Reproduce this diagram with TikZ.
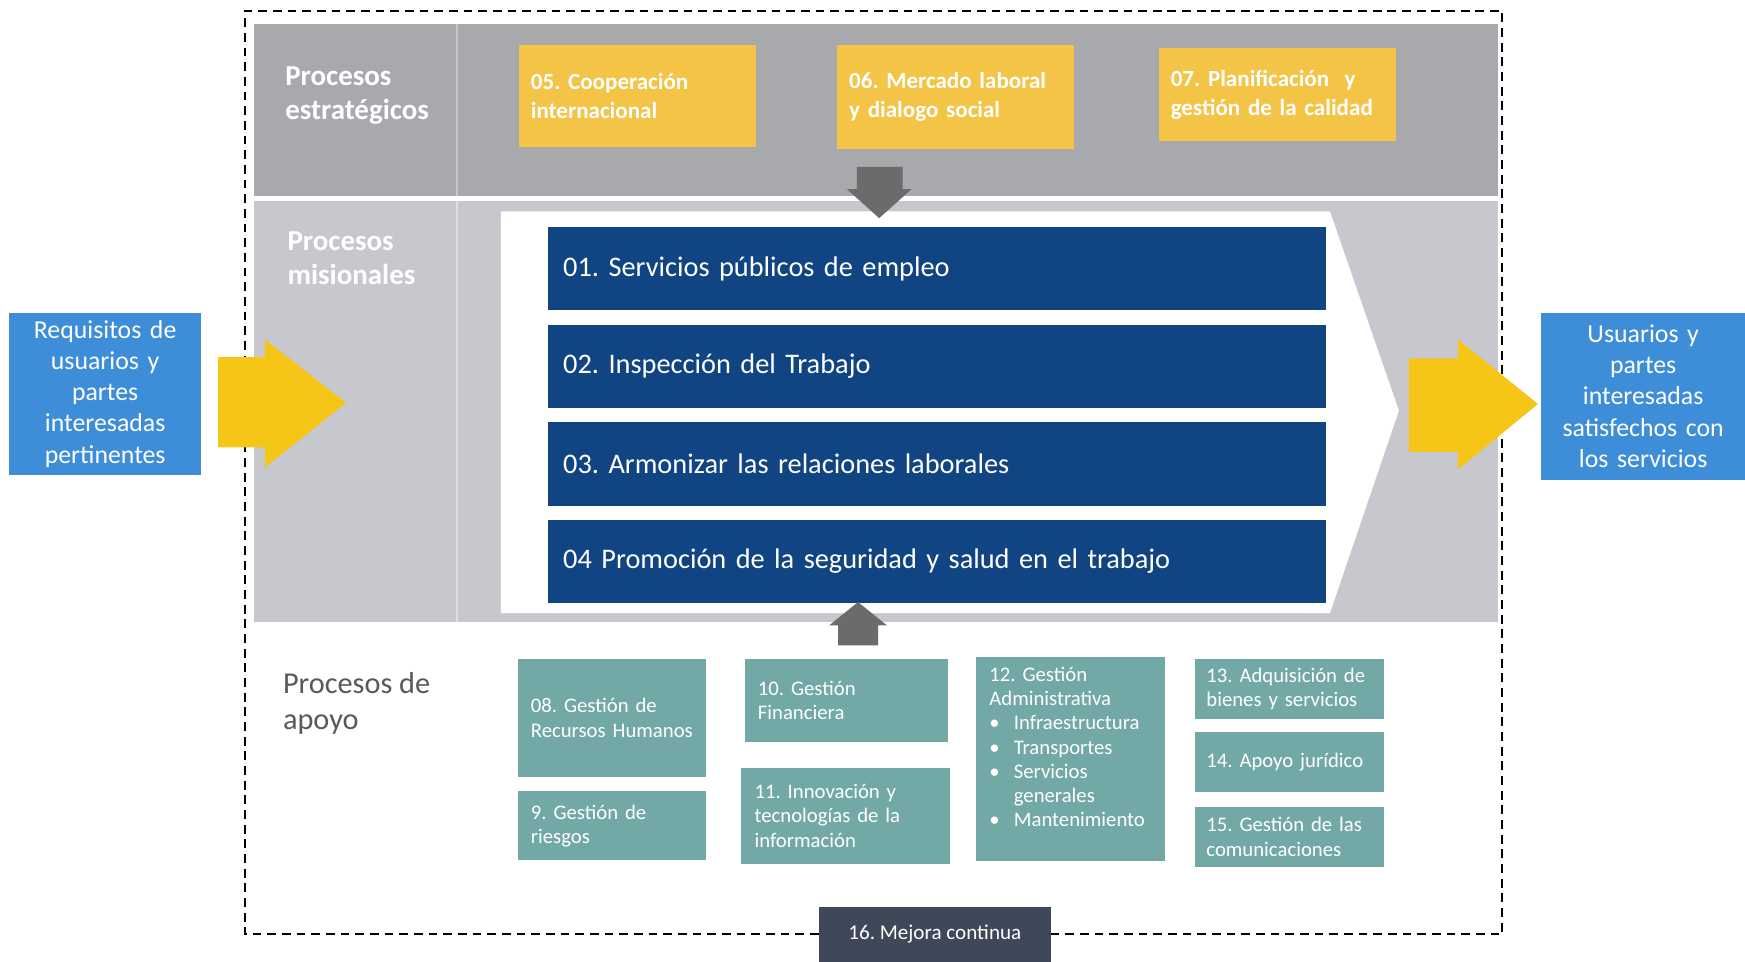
\documentclass[tikz,border=0pt]{standalone}
\usepackage{fontspec}
\setmainfont{Carlito}
\usetikzlibrary{positioning}

\definecolor{grisEst}{HTML}{A7A9AD}
\definecolor{grisMis}{HTML}{C7C8CE}
\definecolor{lineaEst}{HTML}{C4C5C9}
\definecolor{lineaMis}{HTML}{DDDEE2}
\definecolor{amarilloCaja}{HTML}{F4C447}
\definecolor{amarilloFlecha}{HTML}{F5C518}
\definecolor{azulOscuro}{HTML}{114482}
\definecolor{azulClaro}{HTML}{3D8DD9}
\definecolor{verdeApoyo}{HTML}{72A9A6}
\definecolor{grisFlecha}{HTML}{6B6B6B}
\definecolor{grisMejora}{HTML}{3F4858}
\definecolor{grisTexto}{HTML}{595959}

\newcommand{\vineta}{\makebox[0.44cm][l]{\textbullet}}

\begin{document}
\frenchspacing
\hyphenpenalty=10000
\begin{tikzpicture}[x=0.02cm, y=-0.02cm, node distance=0.24cm,
  estrategico/.style={rectangle, fill=amarilloCaja, text=white, align=left,
    font=\bfseries\fontsize{11.8}{14.7}\selectfont, inner xsep=0.22cm, text width=3.82cm},
  misional/.style={rectangle, fill=azulOscuro, text=white, align=left,
    font=\fontsize{14.5}{16}\selectfont, inner xsep=0.28cm, text width=13.44cm, minimum height=1.5cm},
  apoyo/.style={rectangle, fill=verdeApoyo, text=white, align=left,
    font=\fontsize{10.6}{12.4}\selectfont, inner xsep=0.24cm},
  externo/.style={rectangle, fill=azulClaro, text=white, align=center,
    font=\fontsize{13.2}{15.9}\selectfont, inner sep=0pt},
  titulo/.style={anchor=west, inner sep=0pt, align=left, text=white,
    font=\bfseries\fontsize{14.8}{17.6}\selectfont},
  borde/.style={dash pattern=on 4.5pt off 3pt, line width=1.1pt},
  flechaAm/.style={fill=amarilloFlecha},
  flechaGr/.style={fill=grisFlecha}]

  \useasboundingbox (0,0) rectangle (1568,864);

  % Franjas de fondo
  \fill[grisEst] (228,22) rectangle (1346,176);
  \fill[grisMis] (228,181) rectangle (1346,559);
  \fill[white] (450,190) -- (1195,190) -- (1257,369) -- (1195,551) -- (450,551) -- cycle;
  \draw[lineaEst, line width=1pt] (411,22) -- (411,176);
  \draw[lineaMis, line width=1pt] (411,181) -- (411,559);

  % Titulos de las franjas
  \node[titulo] (tEst) at (256,86) {Procesos\\estratégicos};
  \node[titulo] (tMis) at (258,232) {Procesos\\misionales};
  \node[titulo, text=grisTexto, font=\fontsize{15.5}{18.7}\selectfont] (tApo) at (254,632) {Procesos de\\apoyo};

  % Procesos estrategicos
  \node[estrategico, minimum height=1.84cm] (p05) at (572.5,86) {05. Cooperación\\internacional};
  \node[estrategico, minimum height=1.88cm] (p06) at (858.5,87) {06. Mercado~laboral\\y dialogo social};
  \node[estrategico, minimum height=1.68cm] (p07) at (1147.5,85) {07. Planificación\ \ y\\gestión~de~la~calidad};

  % Procesos misionales
  \node[misional] (m01) at (842,241.5) {01. Servicios públicos de empleo};
  \node[misional, below=of m01] (m02) {02. Inspección del Trabajo};
  \node[misional, below=of m02] (m03) {03. Armonizar las relaciones laborales};
  \node[misional, below=of m03] (m04) {04 Promoción de la seguridad y salud en el trabajo};

  % Procesos de apoyo
  \node[apoyo, minimum height=2.12cm, text width=2.9cm] (s08) at (549.5,645) {08. Gestión de\\\mbox{Recursos Humanos}};
  \node[apoyo, minimum height=1.24cm, text width=2.9cm] (s09) at (549.5,742) {9. Gestión de\\riesgos};
  \node[apoyo, minimum height=1.5cm, text width=3.18cm] (s10) at (760.5,629.5) {10. Gestión\\Financiera};
  \node[apoyo, minimum height=1.72cm, text width=3.28cm] (s11) at (760,733) {11. Innovación y\\tecnologías de la\\información};
  \node[apoyo, minimum height=3.68cm, text width=2.92cm] (s12) at (962,682) {12. Gestión\\Administrativa\\\vineta Infraestructura\\\vineta Transportes\\\vineta Servicios\\\hspace*{0.44cm}generales\\\vineta Mantenimiento\\\mbox{}};
  \node[apoyo, inner xsep=0.2cm, minimum height=1.08cm, text width=3.0cm] (s13) at (1159,619) {13. Adquisición~de\\bienes y servicios};
  \node[apoyo, inner xsep=0.2cm, minimum height=1.08cm, text width=3.0cm] (s14) at (1159,685) {14. Apoyo jurídico};
  \node[apoyo, inner xsep=0.2cm, minimum height=1.08cm, text width=3.0cm] (s15) at (1159,752) {15. Gestión de las\\comunicaciones};

  % Entrada y salida
  \node[externo, minimum width=3.46cm, minimum height=2.92cm, text width=3.3cm] (rIn) at (94.5,354) {Requisitos de\\usuarios y\\partes\\interesadas\\pertinentes};
  \node[externo, minimum width=3.66cm, minimum height=3.0cm, text width=3.5cm] (rOut) at (1476.5,356) {Usuarios y\\partes\\interesadas\\satisfechos~con\\los servicios};

  % Mejora continua y borde
  \node[rectangle, fill=grisMejora, text=white, font=\fontsize{10.8}{12}\selectfont, minimum width=4.16cm, minimum height=0.98cm, inner sep=0pt] (m16) at (840,839.5) {16. Mejora continua};
  \draw[borde] (m16.west) -- (220,839.5) -- (220,10) -- (1350,10) -- (1350,839.5) -- (m16.east);

  % Flechas
  \fill[flechaAm] (196,321) -- (238,321) -- (238,305) -- (311,362) -- (238,420) -- (238,402) -- (196,402) -- cycle;
  \fill[flechaAm] (1266,322) -- (1310,322) -- (1310,305) -- (1382,363) -- (1310,422) -- (1310,406) -- (1266,406) -- cycle;
  \fill[flechaGr] (770,150) -- (811,150) -- (811,170) -- (819,170) -- (790,196) -- (761,170) -- (770,170) -- cycle;
  \fill[flechaGr] (753,580) -- (789,580) -- (789,562) -- (797,562) -- (771,541) -- (745,562) -- (753,562) -- cycle;

\end{tikzpicture}
\end{document}
